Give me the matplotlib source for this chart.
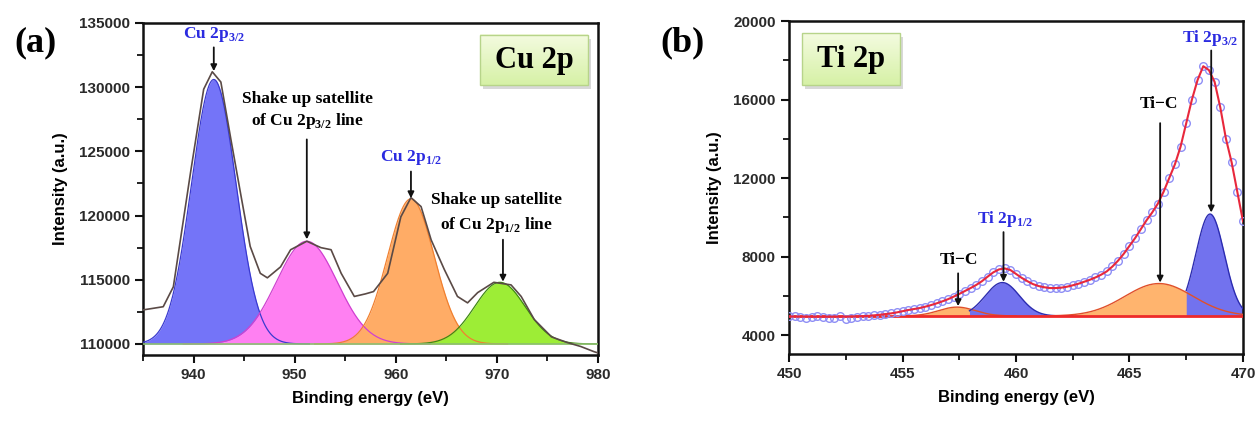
import numpy as np
import matplotlib
matplotlib.use("Agg")
import matplotlib.pyplot as plt
from matplotlib.patches import Rectangle
from matplotlib.colors import LinearSegmentedColormap

plt.rcParams['mathtext.fontset'] = 'custom'
plt.rcParams['mathtext.rm'] = 'Liberation Serif:bold'
plt.rcParams['mathtext.bf'] = 'Liberation Serif:bold'

# ---------------- Panel (a): Cu 2p ----------------
cu_energy = [935, 937, 938, 939.7, 941, 941.85, 942.7, 943.7, 944.7, 945.6, 946.6, 947.3,
             948.6, 949.6, 951.2, 952.6, 953.6, 954.6, 955.9, 957.0, 957.8, 959.2, 960.5,
             961.5, 962.5, 963.5, 964.8, 966.1, 967.1, 968.1, 969.7, 971.4, 972.4, 973.7,
             975.4, 977, 978.3, 979.6, 980]
cu_intensity = [112650, 112900, 114450, 123350, 129840, 131200, 130400, 125900, 121500,
                117600, 115500, 115150, 116000, 117340, 118000, 117500, 117340, 115500,
                113700, 113900, 114080, 115500, 119900, 121400, 120700, 118100, 115800,
                113700, 113200, 114000, 114800, 114600, 113700, 111900, 110550, 110100,
                109800, 109400, 109300]
cu_baseline = 110000
cu_peak_names = ["Cu 2p3/2", "satellite 2p3/2", "Cu 2p1/2", "satellite 2p1/2"]
cu_centers = [942.0, 951.2, 961.5, 970.3]
cu_heights = [20600, 8000, 11300, 4800]
cu_sigmas = [2.2, 3.0, 2.3, 2.5]
cu_fill = ["#7474f8", "#ff80f2", "#ffac66", "#9ded36"]
cu_edge = ["#3a3ad0", "#d040d0", "#f08030", "#3f8a10"]

# ---------------- Panel (b): Ti 2p ----------------
ti_energy = list(np.arange(450, 470.01, 0.25))
ti_intensity = [4960, 4990, 4930, 4890, 4940, 5000, 4950, 4880, 4900, 4960, 4840, 4880,
                4950, 4990, 4960, 5010, 5050, 5080, 5110, 5160, 5220, 5280, 5330, 5380,
                5450, 5530, 5620, 5720, 5830, 5960, 6100, 6250, 6400, 6560, 6750, 6980,
                7200, 7350, 7400, 7320, 7120, 6920, 6750, 6600, 6500, 6440, 6400, 6400,
                6420, 6470, 6540, 6620, 6720, 6820, 6940, 7080, 7250, 7500, 7800, 8150,
                8550, 8950, 9400, 9850, 10250, 10700, 11300, 12000, 12700, 13600, 14800,
                16000, 17000, 17700, 17500, 16900, 15600, 14000, 12800, 11300, 9800]
ti_fit = [4950, 4950, 4945, 4945, 4940, 4940, 4940, 4940, 4940, 4945, 4945, 4950,
          4960, 4970, 4985, 5010, 5040, 5075, 5110, 5160, 5220, 5280, 5330, 5380,
          5450, 5530, 5620, 5720, 5830, 5960, 6100, 6250, 6400, 6560, 6750, 6980,
          7200, 7350, 7400, 7320, 7120, 6920, 6750, 6600, 6500, 6440, 6400, 6400,
          6420, 6470, 6540, 6620, 6720, 6820, 6940, 7080, 7250, 7500, 7800, 8150,
          8550, 8950, 9400, 9850, 10250, 10700, 11300, 12000, 12700, 13600, 14800,
          16000, 17000, 17700, 17500, 16900, 15600, 14000, 12800, 11300, 9800]
ti_baseline = 4980
ti_peak_names = ["Ti-C (1)", "Ti 2p1/2", "Ti-C (2)", "Ti 2p3/2"]
ti_centers = [457.4, 459.4, 466.3, 468.55]
ti_heights = [450, 1700, 1650, 5190]
ti_sigmas = [0.8, 0.75, 1.5, 0.63]
ti_ranges = [(455.0, 460.0), (457.95, 462.5), (461.5, 470.0), (467.5, 470.0)]
ti_fill = ["#ffb46e", "#7272ee", "#ffb46e", "#7272ee"]
ti_edge = ["#e0502a", "#2c2cb0", "#e0502a", "#2c2cb0"]

W, H, DPI = 12.6, 4.21, 100
fig = plt.figure(figsize=(W, H), dpi=DPI)
fig.patch.set_facecolor("white")

axA = fig.add_axes([0.1135, 0.1568, 0.4746 - 0.1135, 0.9454 - 0.1568])
axB = fig.add_axes([0.6262, 0.1591, 0.9865 - 0.6262, 0.950 - 0.1591])

TICKFONT = dict(family="Liberation Sans", weight="bold", size=11)
LABELFONT = dict(family="Liberation Sans", weight="bold", size=12)
SERIF = "Liberation Serif"


def style_axes(ax):
    for s in ax.spines.values():
        s.set_linewidth(1.8)
        s.set_color("#111111")
    ax.tick_params(which="major", direction="out", length=6, width=1.5, colors="#111111",
                   top=False, right=False)
    ax.tick_params(which="minor", direction="out", length=4, width=1.3, colors="#111111",
                   top=False, right=False)
    for lab in ax.get_xticklabels() + ax.get_yticklabels():
        lab.set_fontfamily(TICKFONT["family"])
        lab.set_fontweight(TICKFONT["weight"])
        lab.set_fontsize(TICKFONT["size"])
        lab.set_color("#2a2a2a")


def title_box(ax, x0, y0, x1, y1, text):
    ax.add_patch(Rectangle((x0 + 0.006, y0 - 0.012), x1 - x0, y1 - y0, transform=ax.transAxes,
                           facecolor="#c8c8c8", edgecolor="none", zorder=8, alpha=0.7))
    grad = np.linspace(0, 1, 50).reshape(-1, 1)
    cmap = LinearSegmentedColormap.from_list("g", ["#f4fbe0", "#d6f1a6"])
    ax.imshow(grad, extent=(x0, x1, y0, y1), transform=ax.transAxes, cmap=cmap,
              aspect="auto", zorder=9, origin="upper")
    ax.add_patch(Rectangle((x0, y0), x1 - x0, y1 - y0, transform=ax.transAxes,
                           facecolor="none", edgecolor="#b7d48a", lw=1.0, zorder=10))
    ax.text((x0 + x1) / 2, (y0 + y1) / 2, text, transform=ax.transAxes, ha="center",
            va="center", fontsize=22, fontfamily=SERIF, fontweight="bold", zorder=11)


def arrow(ax, x, y_from, y_to):
    ax.annotate("", xy=(x, y_to), xytext=(x, y_from),
                arrowprops=dict(arrowstyle="-|>", color="#111111", lw=1.3,
                                mutation_scale=9, shrinkA=0, shrinkB=0), zorder=12)


# ----- draw panel (a)
xa = np.linspace(935, 980, 600)
for c, h, s, fc, ec in zip(cu_centers, cu_heights, cu_sigmas, cu_fill, cu_edge):
    yv = cu_baseline + h * np.exp(-(xa - c) ** 2 / (2 * s ** 2))
    mask = (yv - cu_baseline) > 2
    axA.fill_between(xa[mask], cu_baseline, yv[mask], color=fc, lw=0, zorder=2)
    axA.plot(xa[mask], yv[mask], color=ec, lw=0.9, zorder=3)
axA.axhline(cu_baseline, color="#8cbf70", lw=1.2, zorder=3)
axA.plot(cu_energy, cu_intensity, color="#5a4a46", lw=1.2, zorder=4)

axA.set_xlim(935, 980)
axA.set_ylim(109140, 135000)
axA.set_xticks([940, 950, 960, 970, 980])
axA.set_xticks([935, 945, 955, 965, 975], minor=True)
axA.set_yticks([110000, 115000, 120000, 125000, 130000, 135000])
axA.set_yticks([112500, 117500, 122500, 127500, 132500], minor=True)
axA.set_xlabel("Binding energy (eV)", **LABELFONT, labelpad=6)
axA.set_ylabel("Intensity (a.u.)", **LABELFONT, labelpad=8)
style_axes(axA)

blue_lab = "#2b2be0"
axA.text(942.0, 134100, r"Cu 2p$_{\mathrm{3/2}}$", ha="center", va="center", fontsize=12.5,
         fontfamily=SERIF, fontweight="bold", color=blue_lab)
arrow(axA, 942.0, 133100, 131250)
axA.text(951.3, 129060, "Shake up satellite", ha="center", va="center", fontsize=12.5,
         fontfamily=SERIF, fontweight="bold")
axA.text(951.3, 127340, r"of Cu 2p$_{\mathrm{3/2}}$ line", ha="center", va="center",
         fontsize=12.5, fontfamily=SERIF, fontweight="bold")
arrow(axA, 951.2, 125930, 118150)
axA.text(961.5, 124530, r"Cu 2p$_{\mathrm{1/2}}$", ha="center", va="center", fontsize=12.5,
         fontfamily=SERIF, fontweight="bold", color=blue_lab)
arrow(axA, 961.5, 123430, 121350)
axA.text(970.0, 121250, "Shake up satellite", ha="center", va="center", fontsize=12.5,
         fontfamily=SERIF, fontweight="bold")
axA.text(970.0, 119300, r"of Cu 2p$_{\mathrm{1/2}}$ line", ha="center", va="center",
         fontsize=12.5, fontfamily=SERIF, fontweight="bold")
arrow(axA, 970.6, 118120, 114850)
title_box(axA, 0.741, 0.813, 0.978, 0.964, "Cu 2p")
axA.set_xlim(935, 980)
axA.set_ylim(109140, 135000)

# ----- draw panel (b)
for c, h, s, (lo, hi), fc, ec in zip(ti_centers, ti_heights, ti_sigmas, ti_ranges,
                                      ti_fill, ti_edge):
    xb = np.linspace(lo, hi, 300)
    yv = ti_baseline + h * np.exp(-(xb - c) ** 2 / (2 * s ** 2))
    axB.fill_between(xb, ti_baseline, yv, color=fc, lw=0, zorder=2)
    axB.plot(xb, yv, color=ec, lw=1.0, zorder=3)
axB.axhline(ti_baseline, color="#ee2a2a", lw=2.0, zorder=4)
axB.plot(ti_energy, ti_intensity, ls="none", marker="o", ms=5.5, mfc="none",
         mec="#8f8ff5", mew=1.0, zorder=5)
axB.plot(ti_energy, ti_fit, color="#e8283c", lw=1.5, zorder=6)

axB.set_xlim(450, 470)
axB.set_ylim(3040, 20000)
axB.set_xticks([450, 455, 460, 465, 470])
axB.set_xticks([452.5, 457.5, 462.5, 467.5], minor=True)
axB.set_yticks([4000, 8000, 12000, 16000, 20000])
axB.set_yticks([6000, 10000, 14000, 18000], minor=True)
axB.set_xlabel("Binding energy (eV)", **LABELFONT, labelpad=6)
axB.set_ylabel("Intensity (a.u.)", **LABELFONT, labelpad=8)
style_axes(axB)

axB.text(468.55, 19150, r"Ti 2p$_{\mathrm{3/2}}$", ha="center", va="center", fontsize=12.5,
         fontfamily=SERIF, fontweight="bold", color=blue_lab)
arrow(axB, 468.6, 18500, 10250)
axB.text(466.3, 15800, "Ti\u2212C", ha="center", va="center", fontsize=12.5,
         fontfamily=SERIF, fontweight="bold")
arrow(axB, 466.35, 14800, 6680)
axB.text(459.5, 9900, r"Ti 2p$_{\mathrm{1/2}}$", ha="center", va="center", fontsize=12.5,
         fontfamily=SERIF, fontweight="bold", color=blue_lab)
arrow(axB, 459.45, 9250, 6720)
axB.text(457.5, 7850, "Ti\u2212C", ha="center", va="center", fontsize=12.5,
         fontfamily=SERIF, fontweight="bold")
arrow(axB, 457.45, 7150, 5480)
title_box(axB, 0.029, 0.808, 0.245, 0.964, "Ti 2p")
axB.set_xlim(450, 470)
axB.set_ylim(3040, 20000)

# panel labels
fig.text(35 / 1260, 1 - 43 / 421, "(a)", ha="center", va="center", fontsize=26,
         fontfamily=SERIF, fontweight="bold")
fig.text(683 / 1260, 1 - 43 / 421, "(b)", ha="center", va="center", fontsize=26,
         fontfamily=SERIF, fontweight="bold")

fig.savefig("out.png", dpi=DPI, facecolor="white")
